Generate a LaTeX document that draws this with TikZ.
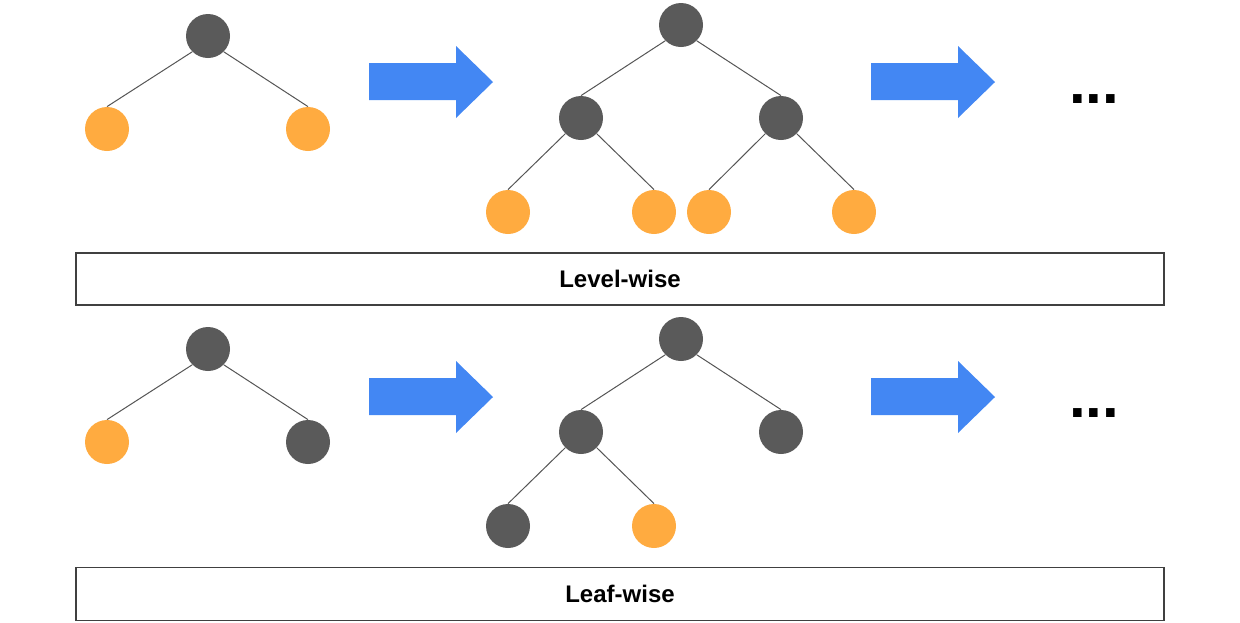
\documentclass[tikz,border=0pt]{standalone}
\usepackage{fontspec}
\setmainfont{Liberation Sans}
\definecolor{treegray}{HTML}{5A5A5A}
\definecolor{leaforange}{HTML}{FFAB40}
\definecolor{arrowblue}{HTML}{4387F3}
\definecolor{edgegray}{HTML}{555555}
\tikzset{
	inner/.style = {circle, fill=treegray, minimum size=22pt, inner sep=0pt},
	leaf/.style = {circle, fill=leaforange, minimum size=22pt, inner sep=0pt},
	edge/.style = {draw=edgegray, line width=0.5pt},
	namebox/.style = {draw=black!75, line width=0.6pt, minimum width=544pt, font=\bfseries\fontsize{12}{14}\selectfont},
	dots/.style = {font=\bfseries\fontsize{30}{30}\selectfont},
}
\begin{document}
\begin{tikzpicture}[x=0.5pt,y=-0.5pt]
	\useasboundingbox (0,0) rectangle (1240,622);
	
	% level-wise, first tree
	\node[inner] (a0) at (208,36) {};
	\node[leaf] (a1) at (107,129) {};
	\node[leaf] (a2) at (308,129) {};
	\draw[edge] (a0.south west) -- (a1.north);
	\draw[edge] (a0.south east) -- (a2.north);
	
	% level-wise, second tree
	\node[inner] (b0) at (681,25) {};
	\node[inner] (b1) at (581,118) {};
	\node[inner] (b2) at (781,118) {};
	\node[leaf] (b3) at (508,212) {};
	\node[leaf] (b4) at (654,212) {};
	\node[leaf] (b5) at (709,212) {};
	\node[leaf] (b6) at (854,212) {};
	\draw[edge] (b0.south west) -- (b1.north);
	\draw[edge] (b0.south east) -- (b2.north);
	\draw[edge] (b1.south west) -- (b3.north);
	\draw[edge] (b1.south east) -- (b4.north);
	\draw[edge] (b2.south west) -- (b5.north);
	\draw[edge] (b2.south east) -- (b6.north);
	
	\fill[arrowblue] (369,63) -- (456,63) -- (456,46) -- (493,82) -- (456,118) -- (456,100) -- (369,100) -- cycle;
	\fill[arrowblue] (871,63) -- (958,63) -- (958,46) -- (995,82) -- (958,118) -- (958,100) -- (871,100) -- cycle;
	\node[dots] (d1) at (1094,99) {...};
	
	\node[namebox, minimum height=26pt] (lvl) at (620,279) {Level-wise};
	
	% leaf-wise, first tree
	\node[inner] (c0) at (208,349) {};
	\node[leaf] (c1) at (107,442) {};
	\node[inner] (c2) at (308,442) {};
	\draw[edge] (c0.south west) -- (c1.north);
	\draw[edge] (c0.south east) -- (c2.north);
	
	% leaf-wise, second tree
	\node[inner] (e0) at (681,339) {};
	\node[inner] (e1) at (581,432) {};
	\node[inner] (e2) at (781,432) {};
	\node[inner] (e3) at (508,526) {};
	\node[leaf] (e4) at (654,526) {};
	\draw[edge] (e0.south west) -- (e1.north);
	\draw[edge] (e0.south east) -- (e2.north);
	\draw[edge] (e1.south west) -- (e3.north);
	\draw[edge] (e1.south east) -- (e4.north);
	
	\fill[arrowblue] (369,378) -- (456,378) -- (456,361) -- (493,397) -- (456,433) -- (456,415) -- (369,415) -- cycle;
	\fill[arrowblue] (871,378) -- (958,378) -- (958,361) -- (995,397) -- (958,433) -- (958,415) -- (871,415) -- cycle;
	\node[dots] (d2) at (1094,413) {...};
	
	\node[namebox, minimum height=26.5pt] (lf) at (620,594) {Leaf-wise};
\end{tikzpicture}
\end{document}
